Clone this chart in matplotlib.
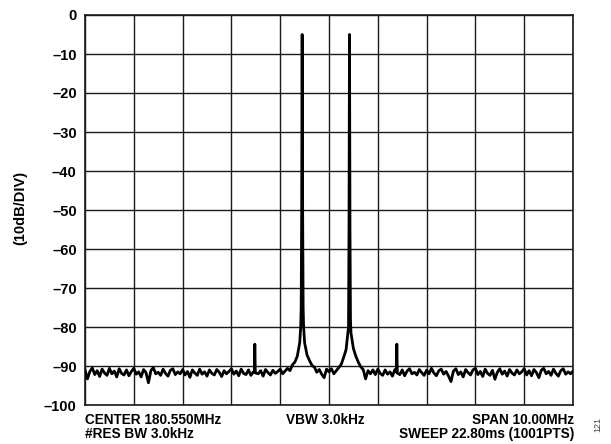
import numpy as np
import matplotlib
matplotlib.use("Agg")
import matplotlib.pyplot as plt

plt.rcParams["font.family"] = ["Liberation Sans", "DejaVu Sans"]

# trace, offset from center in MHz (span 10 MHz), 0.05 MHz apart
trace_freq = np.round(np.linspace(-5, 5, 201), 3)
trace_level = [
    -91.0, -93.3, -91.4, -90.5, -92.2, -91.2, -92.7, -90.8, -91.8, -92.4,
    -90.6, -92.0, -91.3, -92.8, -90.7, -91.9, -92.3, -91.0, -92.5, -91.4,
    -90.6, -92.1, -91.5, -92.8, -90.9, -91.7, -94.3, -91.2, -90.4, -92.0,
    -91.6, -92.4, -90.8, -91.9, -92.6, -91.1, -90.7, -92.2, -91.5, -92.0,
    -90.9, -92.3, -91.4, -92.9, -91.0, -91.8, -92.4, -90.8, -92.1, -91.5,
    -92.6, -91.0, -91.9, -92.3, -90.9, -91.6, -92.7, -91.2, -92.0, -91.4,
    -90.7, -92.1, -91.3, -92.5, -90.8, -91.9, -92.2, -91.0, -92.4, -91.5,
    -91.8, -92.0, -91.2, -92.6, -90.9, -91.7, -92.3, -91.1, -91.9, -91.4,
    -90.8, -92.0, -91.3, -90.6, -91.2, -89.7, -89.0, -87.5, -84.0, -5.0,
    -84.0, -87.2, -88.6, -89.8, -90.3, -91.6, -90.9, -92.1, -93.0, -90.8,
    -91.5, -90.7, -92.0, -91.2, -90.4, -89.6, -87.8, -85.8, -80.0, -81.5,
    -85.5, -87.5, -89.0, -90.2, -90.9, -93.3, -91.2, -92.0, -91.0, -92.2,
    -90.8, -91.9, -92.4, -91.0, -92.1, -91.5, -92.6, -90.9, -91.8, -92.2,
    -91.0, -92.5, -91.3, -90.7, -92.0, -91.6, -92.3, -90.9, -91.7, -92.4,
    -91.1, -92.0, -90.6, -91.8, -92.5, -91.2, -90.8, -92.1, -91.4, -92.6,
    -94.0, -91.3, -90.7, -92.2, -91.5, -92.8, -90.9, -91.7, -92.3, -91.0,
    -90.6, -92.2, -91.4, -92.7, -90.8, -91.9, -92.4, -91.1, -93.4, -91.6,
    -90.7, -92.1, -91.3, -92.6, -90.9, -91.8, -92.3, -91.0, -92.0, -91.5,
    -90.7, -92.3, -91.2, -92.5, -90.9, -91.7, -93.0, -91.1, -90.6, -92.0,
    -91.4, -92.4, -90.8, -91.9, -92.6, -91.2, -90.7, -92.1, -91.5, -92.0,
    -91.3,
]

# finer points around the two tones and the IMD spurs
detail_freq = [-1.53, -1.52, -1.51, -0.58, -0.57, -0.56, -0.54, -0.53, -0.52,
               0.41, 0.42, 0.43, 0.44, 1.38, 1.39]
detail_level = [-91.6, -84.4, -91.4, -80.0, -75.0, -50.0, -50.0, -75.0, -80.0,
                -55.0, -5.0, -55.0, -78.0, -91.5, -84.4]

yticks = [0, -10, -20, -30, -40, -50, -60, -70, -80, -90, -100]
ytick_labels = ["0", "–10", "–20", "–30", "–40", "–50", "–60", "–70", "–80", "–90", "–100"]

freq = np.concatenate([trace_freq, detail_freq])
level = np.concatenate([trace_level, detail_level])
order = np.argsort(freq, kind="stable")

W, H = 611, 444
fig = plt.figure(figsize=(W / 100, H / 100), dpi=100)
ax = fig.add_axes([85 / W, 1 - 405 / H, 488 / W, 390 / H])

ax.plot(freq[order], level[order], color="black", lw=2.0, zorder=3)

ax.set_xlim(-5, 5)
ax.set_ylim(-100, 0)
ax.set_xticks(np.arange(-5, 5.1, 1))
ax.set_xticklabels([])
ax.set_yticks(yticks)
ax.set_yticklabels(ytick_labels, fontsize=10.5, fontweight="bold")
ax.tick_params(length=0, pad=6)
ax.grid(True, color="#1a1a1a", lw=1.0)
for s in ax.spines.values():
    s.set_color("#1a1a1a")
    s.set_linewidth(1.2)

fig.text(20 / W, 1 - 208 / H, "(10dB/DIV)", rotation=90, ha="center", va="center",
         fontsize=10.5, fontweight="bold")

fs = 9.8
fig.text(85 / W, 1 - 420 / H, "CENTER 180.550MHz", ha="left", va="center", fontsize=fs, fontweight="bold")
fig.text(85 / W, 1 - 434 / H, "#RES BW 3.0kHz", ha="left", va="center", fontsize=fs, fontweight="bold")
fig.text(325 / W, 1 - 420 / H, "VBW 3.0kHz", ha="center", va="center", fontsize=fs, fontweight="bold")
fig.text(574 / W, 1 - 420 / H, "SPAN 10.00MHz", ha="right", va="center", fontsize=fs, fontweight="bold")
fig.text(574 / W, 1 - 434 / H, "SWEEP 22.80ms (1001PTS)", ha="right", va="center", fontsize=fs, fontweight="bold")
fig.text(598 / W, 1 - 424 / H, "121", rotation=90, ha="center", va="center", fontsize=6.5, color="#444444")

fig.savefig("out.png", dpi=100)
